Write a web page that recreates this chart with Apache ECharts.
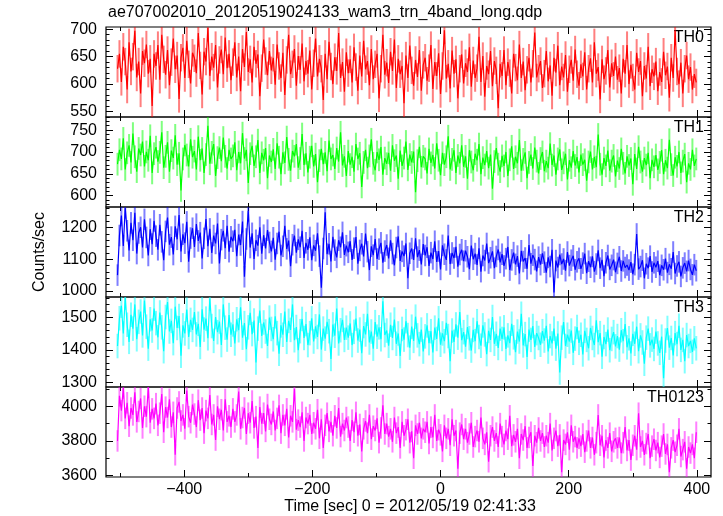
<!DOCTYPE html>
<html><head><meta charset="utf-8">
<script src="https://cdn.jsdelivr.net/npm/echarts@6/dist/echarts.min.js"></script>
<style>html,body{margin:0;padding:0;background:#fff}#c{width:723px;height:516px}</style>
</head><body><div id="c"></div>
<script>
const titleText = "ae707002010_20120519024133_wam3_trn_4band_long.qdp";
const xTitle = "Time [sec] 0 = 2012/05/19 02:41:33";
const yTitle = "Counts/sec";
const panelNames = ["TH0", "TH1", "TH2", "TH3", "TH0123"];
const colors = ["#ff0000", "#00ff00", "#0000ff", "#00ffff", "#ff00ff"];
const tStart = -504, binSize = 3;
const xRange = [-522, 422];
const xLabels = [-400, -200, 0, 200, 400];
const xMinorTicks = [-500, -300, -100, 100, 300];
const yRanges = [[540, 704], [574, 780], [981, 1265], [1285, 1564], [3592, 4111]];
const yLabels = [[550, 600, 650, 700], [600, 650, 700, 750], [1000, 1100, 1200], [1300, 1400, 1500], [3600, 3800, 4000]];
const yMinorStep = [10, 10, 20, 20, 100];
const errs = [25, 26, 34, 38, 62];

const th0 = [
628,655,604,668,641,590,676,623,650,697,612,641,583,660,638,672,619,646,560,655,
633,671,608,690,645,617,662,598,640,683,627,652,573,648,666,611,679,636,601,657,
647,620,693,634,581,659,641,702,615,650,630,671,594,644,663,618,685,629,655,607,
640,676,612,650,587,664,631,695,622,645,603,668,637,654,578,629,681,642,616,660,
625,648,599,672,633,611,657,580,644,690,618,636,664,597,651,626,674,605,642,619,
661,590,638,683,614,646,628,571,655,609,677,632,600,649,624,693,611,640,586,658,
620,645,603,667,631,588,652,614,679,627,642,598,664,609,636,655,574,628,690,617,
639,602,659,624,681,593,646,618,633,565,652,611,670,625,597,644,613,662,588,635,
648,606,629,671,591,640,615,656,582,633,698,610,637,592,661,619,645,574,628,654,
601,638,622,667,595,643,611,629,686,604,651,577,633,618,660,596,642,625,556,637,
615,662,598,640,620,583,655,630,607,672,611,641,589,626,648,603,637,694,612,628,
642,593,619,660,605,634,579,648,621,670,598,632,612,653,586,627,644,606,663,618,
597,636,614,658,590,628,647,603,676,619,631,572,645,609,624,662,594,638,615,650,
608,629,583,646,619,671,600,635,612,590,657,622,642,578,633,610,668,596,627,614,
641,587,622,604,659,616,632,575,648,611,697,623,600,639,583,628,652,609,631,590,
618,603];
const th1 = [
672,705,684,731,660,698,715,676,742,689,655,708,693,724,667,700,681,737,652,696,
711,678,699,745,664,690,722,655,703,686,738,671,697,612,684,716,693,667,729,688,
702,660,735,681,708,652,694,760,673,699,718,645,687,710,679,733,690,662,705,684,
691,722,658,700,674,743,685,705,629,696,714,668,689,727,652,698,681,709,640,692,
677,706,661,720,688,649,699,675,734,683,657,702,690,718,664,685,741,670,697,653,
688,714,667,695,631,680,707,672,699,656,726,684,693,661,709,678,745,669,690,645,
702,671,689,655,718,684,697,620,676,705,663,691,729,674,658,700,682,711,648,686,
673,698,657,715,680,692,639,703,668,686,724,659,694,676,701,608,680,712,665,690,
684,651,707,675,693,662,720,681,647,698,671,689,736,660,683,704,652,692,674,715,
666,690,639,704,677,658,696,681,718,649,687,670,702,663,694,616,678,709,672,655,
691,668,700,645,682,713,661,689,674,727,657,683,699,640,676,694,662,710,679,651,
685,700,656,679,663,719,670,692,648,684,706,659,675,696,637,681,664,702,669,688,
653,694,671,682,634,677,701,660,689,665,740,672,648,686,668,703,657,679,692,644,
680,662,707,674,651,690,669,685,626,695,661,712,677,655,686,670,698,640,682,666,
693,659,676,704,649,681,663,728,671,646,688,667,700,652,679,695,631,674,660,705,
668,684];
const th2 = [
1050,1175,1238,1142,1262,1190,1128,1215,1160,1247,1118,1183,1201,1137,1226,1169,1112,1195,1148,1221,
1173,1130,1209,1155,1097,1188,1232,1146,1170,1115,1204,1163,1240,1125,1179,1151,1218,1092,1167,1198,
1139,1211,1158,1184,1103,1166,1227,1141,1196,1120,1175,1150,1213,1087,1162,1190,1135,1206,1124,1171,
1157,1193,1110,1178,1145,1219,1045,1164,1253,1137,1182,1101,1160,1143,1201,1118,1176,1134,1192,1153,
1125,1168,1099,1150,1187,1112,1141,1206,1133,1159,1078,1146,1175,1121,1163,1138,1190,1104,1152,1130,
1169,1097,1144,1127,1182,1110,1010,1134,1248,1116,1149,1093,1171,1129,1106,1160,1138,1185,1114,1143,
1122,1157,1098,1135,1170,1086,1128,1149,1109,1181,1124,1066,1141,1113,1164,1101,1132,1152,1089,1126,
1145,1103,1160,1118,1081,1137,1172,1095,1125,1110,1150,1040,1119,1134,1098,1166,1107,1129,1084,1148,
1112,1138,1079,1121,1101,1157,1092,1126,1068,1144,1116,1098,1175,1085,1120,1104,1139,1077,1115,1130,
1094,1127,1108,1069,1143,1100,1118,1082,1135,1061,1112,1096,1150,1088,1105,1125,1072,1109,1131,1090,
1116,1079,1102,1139,1066,1098,1121,1084,1110,1055,1127,1093,1104,1070,1145,1086,1113,1099,1062,1107,
1083,1119,1091,1058,1106,1077,1130,995,1096,1074,1115,1085,1101,1064,1123,1080,1097,1111,1067,1092,
1103,1070,1088,1118,1056,1094,1075,1109,1061,1085,1128,1072,1098,1047,1089,1112,1068,1081,1099,1059,
1087,1108,1063,1095,1074,1082,1066,1091,1053,1083,1180,1069,1077,1097,1040,1086,1072,1110,1060,1089,
1075,1094,1050,1081,1067,1102,1058,1084,1070,1123,1055,1079,1092,1046,1073,1088,1062,1096,1068,1051,
1083,1064];
const th3 = [
1412,1498,1537,1451,1562,1478,1425,1509,1466,1541,1433,1487,1519,1445,1553,1472,1404,1495,1460,1528,
1483,1439,1516,1470,1396,1502,1548,1457,1490,1421,1534,1468,1505,1382,1476,1451,1525,1440,1493,1462,
1517,1448,1481,1409,1526,1463,1497,1436,1559,1474,1428,1502,1455,1488,1415,1541,1469,1432,1508,1447,
1479,1420,1495,1461,1532,1438,1483,1402,1470,1515,1449,1491,1361,1466,1522,1443,1485,1457,1412,1500,
1465,1433,1504,1452,1388,1476,1447,1519,1425,1490,1462,1541,1430,1471,1399,1458,1496,1437,1480,1415,
1452,1498,1426,1473,1440,1510,1401,1466,1435,1487,1458,1372,1479,1444,1528,1420,1461,1493,1431,1469,
1438,1482,1415,1456,1497,1429,1463,1390,1474,1448,1512,1423,1457,1404,1486,1441,1470,1433,1551,1446,
1460,1413,1478,1437,1494,1419,1451,1381,1465,1432,1489,1446,1407,1472,1428,1503,1445,1418,1463,1395,
1442,1476,1421,1458,1392,1469,1434,1498,1416,1451,1427,1484,1443,1365,1460,1425,1479,1438,1517,1430,
1455,1410,1471,1436,1398,1462,1427,1489,1440,1413,1476,1448,1387,1459,1431,1502,1419,1450,1406,1466,
1434,1470,1403,1445,1421,1481,1439,1393,1457,1426,1512,1414,1449,1378,1463,1431,1474,1409,1452,1437,
1416,1458,1429,1475,1395,1443,1420,1466,1404,1451,1330,1438,1486,1412,1447,1426,1460,1391,1435,1471,
1422,1447,1386,1459,1431,1405,1468,1437,1415,1492,1424,1452,1379,1440,1418,1463,1399,1434,1455,1411,
1443,1401,1461,1427,1480,1408,1436,1389,1450,1419,1472,1396,1445,1423,1357,1438,1466,1414,1432,1403,
1457,1420,1391,1441,1312,1429,1468,1407,1437,1383,1452,1418,1475,1400,1431,1365,1446,1412,1428,1394,
1436,1405];
const th0123 = [
3800,4060,3975,4105,3930,4020,3885,3990,3950,4080,3910,3970,4045,3875,4000,3940,4110,3905,3985,3930,
4015,3890,3960,4070,3850,3995,3935,4040,3880,3965,3720,3990,4025,3915,3950,3870,4090,3940,3905,4010,
3955,3880,4035,3920,3990,3845,3975,3930,4065,3895,3950,3805,4000,3925,3980,3860,4040,3910,3945,3880,
3985,3910,3950,4085,3870,3935,3990,3840,3960,3905,4030,3875,3940,3760,3995,3900,3960,3855,4010,3925,
3895,3970,3860,3930,4005,3845,3950,3890,3985,3820,3945,3910,4100,3865,3920,3880,3965,3800,3935,3900,
3950,3840,3905,3870,3980,3815,3925,3760,3890,3960,3855,3910,3830,3945,3875,3990,3825,3900,3860,3935,
3880,3800,3920,3850,3965,3830,3895,3740,3870,3915,3845,3950,3810,3885,3860,3930,3790,3875,4005,3840,
3900,3825,3870,3795,3935,3845,3880,3760,3910,3830,3865,3925,3790,3855,3700,3890,3840,3905,3815,3870,
3850,3910,3785,3880,3820,3950,3800,3865,3835,3740,3890,3815,3870,3775,3925,3830,3860,3640,3845,3895,
3810,3870,3790,3840,3905,3765,3825,3860,3795,3935,3815,3780,3850,3680,3830,3880,3800,3845,3765,3900,
3825,3780,3860,3810,3945,3770,3835,3795,3870,3700,3840,3805,3885,3760,3820,3850,3655,3830,3790,3875,
3800,3845,3765,3830,3790,3900,3745,3815,3860,3770,3835,3620,3805,3780,3850,3750,3890,3795,3825,3760,
3815,3770,3840,3735,3800,3860,3760,3820,3720,3790,3950,3775,3830,3705,3805,3760,3845,3740,3795,3815,
3760,3820,3730,3790,3880,3745,3805,3690,3775,3830,3750,3960,3765,3800,3720,3785,3840,3700,3770,3810,
3745,3790,3705,3770,3840,3725,3780,3620,3760,3805,3735,3775,3870,3710,3750,3795,3640,3765,3730,3780,
3700,3850];
const seriesValues = [th0, th1, th2, th3, th0123];

const FONT = "Liberation Sans";
const FS = 16;
const L = 106, R = 12, H = 90;
const tops = [27, 117, 207, 297, 387];

function minorVals(p) {
  const out = [];
  const st = yMinorStep[p];
  for (let v = Math.ceil(yRanges[p][0] / st) * st; v <= yRanges[p][1]; v += st) {
    if (yLabels[p].indexOf(v) < 0) out.push(v);
  }
  return out;
}

const option = {
  animation: false,
  backgroundColor: "#fff",
  grid: tops.map(t => ({left: L, right: R, top: t, height: H, show: true, borderColor: "#000", borderWidth: 1.2, backgroundColor: "transparent"})),
  xAxis: [], yAxis: [], series: [], graphic: []
};

const tickStyle = {color: "#000", width: 1};
for (let p = 0; p < 5; p++) {
  const xDefs = [
    {pos: "bottom", vals: xLabels, len: 7, label: p === 4},
    {pos: "bottom", vals: xMinorTicks, len: 4, label: false},
    {pos: "top", vals: xLabels, len: 7, label: false},
    {pos: "top", vals: xMinorTicks, len: 4, label: false}
  ];
  xDefs.forEach(d => option.xAxis.push({
    gridIndex: p, type: "value", position: d.pos, min: xRange[0], max: xRange[1],
    axisLine: {show: false, onZero: false}, splitLine: {show: false},
    axisTick: {show: true, inside: true, length: d.len, customValues: d.vals, lineStyle: tickStyle},
    axisLabel: {show: d.label, customValues: xLabels, fontSize: FS, color: "#000", fontFamily: FONT, margin: 5,
      formatter: v => (v < 0 ? "\u2212" + Math.abs(v) : String(v))}
  }));
  const yDefs = [
    {pos: "left", vals: yLabels[p], len: 7, label: true},
    {pos: "left", vals: minorVals(p), len: 3.5, label: false},
    {pos: "right", vals: yLabels[p], len: 7, label: false},
    {pos: "right", vals: minorVals(p), len: 3.5, label: false}
  ];
  yDefs.forEach(d => option.yAxis.push({
    gridIndex: p, type: "value", position: d.pos, min: yRanges[p][0], max: yRanges[p][1],
    axisLine: {show: false, onZero: false}, splitLine: {show: false},
    axisTick: {show: true, inside: true, length: d.len, customValues: d.vals, lineStyle: tickStyle},
    axisLabel: {show: d.label, customValues: yLabels[p], fontSize: FS, color: "#000", fontFamily: FONT, margin: 9,
      formatter: v => String(v)}
  }));
  const vals = seriesValues[p];
  const pts = vals.map((v, i) => [tStart + i * binSize, v]);
  const err = errs[p];
  option.series.push({
    type: "custom", xAxisIndex: p * 4, yAxisIndex: p * 4, clip: true, silent: true,
    data: pts,
    renderItem: function (params, api) {
      const x = api.value(0), y = api.value(1);
      const a = api.coord([x, y - err]), b = api.coord([x, y + err]);
      return {type: "line", shape: {x1: a[0], y1: a[1], x2: b[0], y2: b[1]},
        style: {stroke: colors[p], lineWidth: 2, opacity: 0.5}};
    }
  });
  option.series.push({
    type: "line", xAxisIndex: p * 4, yAxisIndex: p * 4, data: pts, showSymbol: false, symbol: "none",
    lineStyle: {color: colors[p], width: 1.2}, clip: true, silent: true
  });
  option.graphic.push({type: "text", right: 19, top: tops[p] + 3,
    style: {text: panelNames[p], font: FS + "px " + FONT, fill: "#000"}});
}

option.graphic.push({type: "text", left: 108, top: 5, style: {text: titleText, font: FS + "px " + FONT, fill: "#000"}});
option.graphic.push({type: "text", x: 410, y: 507, style: {text: xTitle, font: FS + "px " + FONT, fill: "#000", align: "center", verticalAlign: "middle"}});
option.graphic.push({type: "text", x: 40, y: 252, rotation: Math.PI / 2, style: {text: yTitle, font: FS + "px " + FONT, fill: "#000", align: "center", verticalAlign: "middle"}});

const chart = echarts.init(document.getElementById("c"), null, {renderer: "canvas"});
chart.setOption(option);
</script></body></html>
